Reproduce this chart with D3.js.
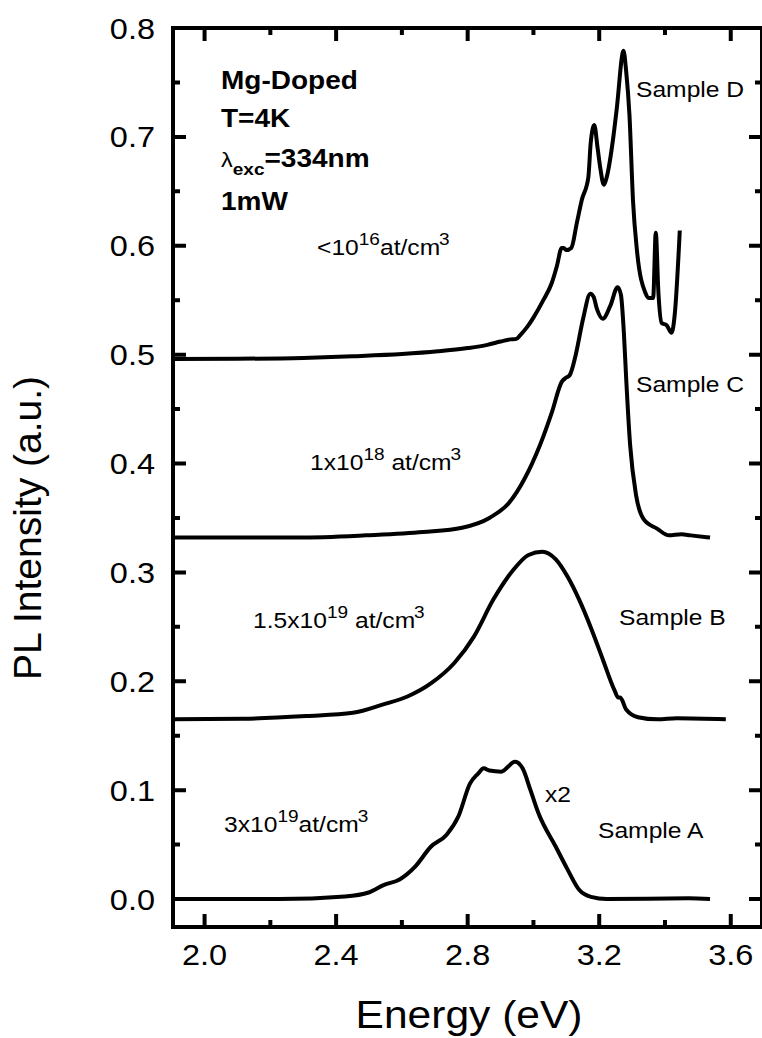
<!DOCTYPE html>
<html>
<head>
<meta charset="utf-8">
<script src="https://cdn.jsdelivr.net/npm/d3@7"></script>
<style>
  html, body { margin: 0; padding: 0; background: #fff; }
  svg { display: block; }
  text { font-family: "Liberation Sans", Arial, sans-serif; fill: #000; }
</style>
</head>
<body>
<svg id="chart" width="762" height="1038"></svg>
<script>
// ---- data ----
const energyTicks = [2.0, 2.4, 2.8, 3.2, 3.6];
const energyMinorTicks = [2.2, 2.6, 3.0, 3.4];
const intensityTicks = [0.0, 0.1, 0.2, 0.3, 0.4, 0.5, 0.6, 0.7, 0.8];
const intensityMinorTicks = [0.05, 0.15, 0.25, 0.35, 0.45, 0.55, 0.65, 0.75];

// Sample A (x2), 3x10^19 at/cm^3
const sampleA = [[1.904,0],[2.226,0],[2.427,0.0024],[2.499,0.006],[2.546,0.013],[2.593,0.018],[2.641,0.03],[2.688,0.048],[2.736,0.059],[2.772,0.076],[2.807,0.106],[2.831,0.115],[2.849,0.12],[2.866,0.118],[2.902,0.117],[2.944,0.126],[2.967,0.12],[2.991,0.10],[3.015,0.079],[3.068,0.048],[3.104,0.027],[3.139,0.0085],[3.175,0.002],[3.223,0],[3.472,0.0006],[3.537,0]];
// Sample B, 1.5x10^19 at/cm^3
const sampleB = [[1.904,0.165],[2.119,0.1655],[2.309,0.168],[2.451,0.171],[2.546,0.179],[2.617,0.186],[2.688,0.198],[2.76,0.217],[2.819,0.241],[2.878,0.275],[2.938,0.302],[2.985,0.316],[3.027,0.319],[3.068,0.312],[3.104,0.296],[3.139,0.275],[3.175,0.249],[3.211,0.22],[3.246,0.192],[3.258,0.185],[3.264,0.185],[3.282,0.174],[3.318,0.167],[3.377,0.165],[3.436,0.166],[3.585,0.165]];
// Sample C, 1x10^18 at/cm^3
const sampleC = [[1.904,0.332],[2.1,0.332],[2.285,0.332],[2.49,0.334],[2.665,0.337],[2.783,0.341],[2.866,0.35],[2.926,0.364],[2.973,0.386],[3.02,0.417],[3.056,0.447],[3.086,0.475],[3.1,0.479],[3.11,0.481],[3.128,0.499],[3.151,0.533],[3.173,0.556],[3.183,0.553],[3.193,0.542],[3.211,0.533],[3.234,0.545],[3.256,0.562],[3.266,0.555],[3.275,0.52],[3.282,0.478],[3.294,0.417],[3.312,0.371],[3.335,0.349],[3.377,0.34],[3.412,0.334],[3.45,0.335],[3.478,0.334],[3.537,0.332]];
// Sample D, <10^16 at/cm^3
const sampleD = [[1.904,0.496],[2.1,0.4962],[2.3,0.497],[2.45,0.4985],[2.6,0.5005],[2.71,0.503],[2.8,0.506],[2.86,0.509],[2.9,0.512],[2.93,0.514],[2.948,0.5145],[2.96,0.518],[2.98,0.525],[3.0,0.534],[3.03,0.55],[3.056,0.566],[3.071,0.581],[3.086,0.598],[3.092,0.598],[3.1,0.596],[3.115,0.598],[3.132,0.621],[3.147,0.642],[3.167,0.663],[3.174,0.694],[3.185,0.711],[3.195,0.69],[3.204,0.67],[3.214,0.656],[3.222,0.662],[3.243,0.700],[3.253,0.725],[3.274,0.779],[3.282,0.76],[3.292,0.72],[3.303,0.64],[3.315,0.595],[3.34,0.557],[3.35,0.552],[3.364,0.552],[3.372,0.612],[3.38,0.557],[3.39,0.529],[3.405,0.527],[3.42,0.52],[3.43,0.538],[3.445,0.614]];

const seriesList = [sampleA, sampleB, sampleC, sampleD];

// ---- layout ----
const plotLeft = 173, plotRight = 762, plotTop = 28, plotBottom = 927;
const SX = 1.12; // horizontal stretch of the original's lettering
const majorLen = 13, minorLen = 7;

const svg = d3.select("#chart");
svg.append("rect").attr("width", 762).attr("height", 1038).attr("fill", "#fff");

const x = d3.scaleLinear().domain([1.904, 3.695]).range([plotLeft, plotRight]);
const y = d3.scaleLinear().domain([-0.0257, 0.8]).range([plotBottom, plotTop]);

// curves
const line = d3.line().x(d => x(d[0])).y(d => y(d[1])).curve(d3.curveMonotoneX);
svg.append("g").selectAll("path").data(seriesList).join("path")
  .attr("d", line)
  .attr("fill", "none").attr("stroke", "#000").attr("stroke-width", 4)
  .attr("stroke-linejoin", "round").attr("stroke-linecap", "butt");

// ticks (inward, on all four sides) as one path
const tp = d3.path();
function xTicks(vals, len) {
  vals.forEach(v => {
    const px = x(v);
    tp.moveTo(px, plotBottom); tp.lineTo(px, plotBottom - len);
    tp.moveTo(px, plotTop); tp.lineTo(px, plotTop + len);
  });
}
function yTicks(vals, len) {
  vals.forEach(v => {
    const py = y(v);
    tp.moveTo(plotLeft, py); tp.lineTo(plotLeft + len, py);
    tp.moveTo(plotRight, py); tp.lineTo(plotRight - len, py);
  });
}
xTicks(energyTicks, majorLen);
xTicks(energyMinorTicks, minorLen);
yTicks(intensityTicks, majorLen);
yTicks(intensityMinorTicks, minorLen);
svg.append("path").attr("d", tp.toString())
  .attr("fill", "none").attr("stroke", "#000").attr("stroke-width", 4);

// tick labels
const fmt = d3.format(".1f");
svg.append("g").selectAll("text").data(energyTicks).join("text")
  .attr("transform", d => `translate(${x(d)},965) scale(${SX},1)`)
  .attr("text-anchor", "middle").attr("font-size", 29).text(fmt);
svg.append("g").selectAll("text").data(intensityTicks).join("text")
  .attr("transform", d => `translate(155,${y(d) + 10.5}) scale(${SX},1)`)
  .attr("text-anchor", "end").attr("font-size", 29).text(fmt);

// frame
svg.append("rect").attr("x", plotLeft).attr("y", plotTop)
  .attr("width", plotRight - plotLeft).attr("height", plotBottom - plotTop)
  .attr("fill", "none").attr("stroke", "#000").attr("stroke-width", 4);

// axis titles
svg.append("text").attr("transform", `translate(469,1028) scale(${SX},1)`)
  .attr("text-anchor", "middle").attr("font-size", 38).text("Energy (eV)");
svg.append("text").attr("transform", "translate(41,528) rotate(-90)")
  .attr("text-anchor", "middle").attr("font-size", 39).text("PL Intensity (a.u.)");

// helper for annotation text
function label(px, py, size, weight) {
  return svg.append("text").attr("transform", `translate(${px},${py}) scale(${SX},1)`)
    .attr("font-size", size).attr("font-weight", weight || "normal");
}
function conc(px, py, mant, exp, gap) {
  const t = label(px, py, 22);
  t.append("tspan").text(mant);
  t.append("tspan").attr("font-size", 17).attr("dy", -10).text(exp);
  t.append("tspan").attr("dy", 10).text((gap ? " " : "") + "at/cm");
  t.append("tspan").attr("font-size", 17).attr("dy", -10).attr("dx", -1).text("3");
}

// info block
label(221, 89, 25, "bold").text("Mg-Doped");
label(221, 127, 25, "bold").text("T=4K");
{
  const t = label(221, 167, 25, "bold");
  t.append("tspan").attr("font-weight", "normal").attr("font-size", 21).text("\u03bb");
  t.append("tspan").attr("font-size", 17).attr("dy", 8).text("exc");
  t.append("tspan").attr("dy", -8).text("=334nm");
}
label(221, 210, 25, "bold").text("1mW");

// concentrations
conc(317, 255, "<10", "16", false);
conc(310, 470, "1x10", "18", true);
conc(253, 628, "1.5x10", "19", true);
conc(224, 832, "3x10", "19", false);

// sample labels
label(636, 97, 22).text("Sample D");
label(636, 392, 22).text("Sample C");
label(619, 625, 22).text("Sample B");
label(598, 838, 22).text("Sample A");
label(545, 802, 22).text("x2");
</script>
</body>
</html>
